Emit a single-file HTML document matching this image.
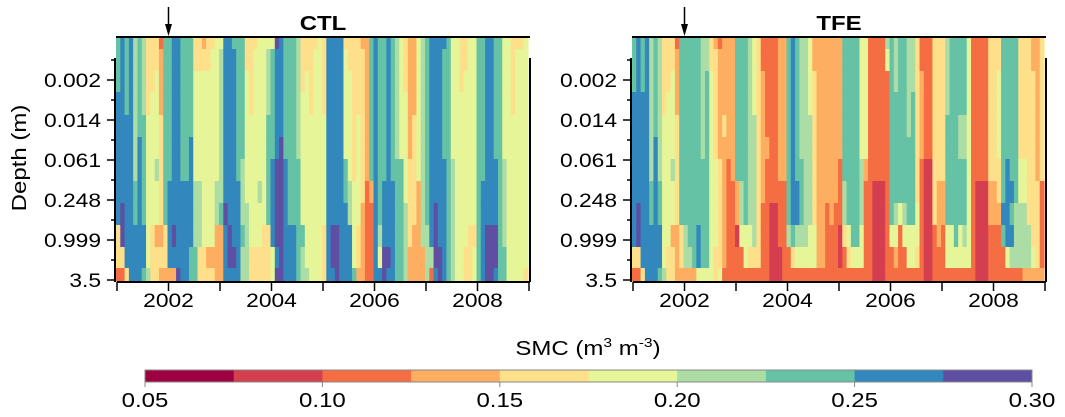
<!DOCTYPE html>
<html><head><meta charset="utf-8"><style>
html,body{margin:0;padding:0;background:#fff;}
svg{display:block;font-family:"Liberation Sans",sans-serif;}
</style></head><body>
<svg id="c" width="1065" height="417" viewBox="0 0 1065 417"></svg>
<script>
const years=[2001,2002,2003,2004,2005,2006,2007,2008,2009];
const yearLabels=["2002","2004","2006","2008"];
const depthLabels=["0.002","0.014","0.061","0.248","0.999","3.5"];
const cbTicks=["0.05","0.10","0.15","0.20","0.25","0.30"];
const palette=["#9e0142","#d53e4f","#f46d43","#fdae61","#fee08b","#e6f598","#abdda4","#66c2a5","#3288bd","#5e4fa2"];
const ctlData=["777888888442","888888889942","777788888884","888888888888","666666677888","777778888888","666677777887","444455555556","444555555444","445555655344","233344444343","777777777443","777777788883","888888888983","888888888889","777777788888","777777788888","777778888877","445555566677","445555566644","345555555544","445555555534","455555555534","555555566333","566666667333","888888889888","888888888998","788888888898","777777788888","777777666766","445555556666","444455555544","455555555544","555555565544","555555555444","566677777444","577777888855","988888999989","888889999999","777777888888","777777777888","777777777888","666666777777","444555555766","445555555556","444455555555","455555555555","555555555555","444455555444","888888888888","888888888998","888888888999","888888888888","455555778888","445555566888","444444455557","444455555443","344444443333","333333322222","777777732222","888888888888","777777777658","777777788899","888888888898","777777788888","666666777777","555555777777","444555556666","333333444433","333344444333","555555533333","666666666633","777777777666","888888888862","888888889998","888888888899","877777888888","777777777777","555555666666","555555555555","444555555555","445555555544","555555555444","555555555455","777777777777","777777788888","888888888999","888888888999","777777888998","777777777777","555555666677","555555555555","444455555555","455555555555","455555555555","555555555554"];
const tfeData=["777888888842","888888889942","777888888884","888888888888","666666677888","777778888888","666666677887","444455555556","444555555544","445555655344","233344444333","777777777443","777777777663","777777777763","777777777773","777777777885","666666777775","667777777775","445555555555","344444555544","233333444445","333343333332","333333222222","333333322222","777777733122","777777766522","777777777552","666666666542","555566666642","444444444442","223333332222","222223222222","222222221111","222222221111","333333322211","333333322222","777777777622","888888888742","777777788652","666666777652","666666666652","555566666552","334444444552","333333333332","333333333332","333333332222","333333333222","333333332222","333333222112","777777766422","777777777542","777777777752","777777777752","555555666552","555555322222","222222222222","222222211111","222222211111","222222211111","652222222222","777777777522","666777776532","777777775222","777777776522","666667777552","666777777552","444444445542","223333222222","222222111111","222222111111","444444444222","444444433322","444444433222","666677777552","777777777552","777777777752","777766777552","777766777652","555555555552","222222222222","222222211111","222222211111","222222211111","444444433222","444444433222","445555443222","777777778722","777777888852","777777787862","777777776662","444444556662","444444556663","444444444663","334444444453","333333344443","444444422223"];

const NS="http://www.w3.org/2000/svg";
const svg=document.getElementById("c");
function mk(tag,attrs,parent){const e=document.createElementNS(NS,tag);for(const k in attrs)e.setAttribute(k,attrs[k]);(parent||svg).appendChild(e);return e;}
function txt(parent,x,y,str,size,anchor,rot,bold){
  const g=mk("g",{transform:`translate(${x},${y}) rotate(${rot||0}) scale(1.2,1)`},parent);
  const t=mk("text",{x:0,y:0,"text-anchor":anchor,"font-size":size},g);
  if(bold)t.setAttribute("font-weight","bold");
  t.textContent=str;
  return t;
}
const rowEdges=[37,49,71,92,115,137,159,181,203,225,247,268,281];
function panel(x0,data,title,name){
  const g=mk("g",{});
  
  
  const W=412, nMonths=data.length;
  const xs=t=>x0+(t-years[0])/(years[years.length-1]-years[0])*W;
  for(let c=0;c<nMonths;c++){
    const xa=xs(years[0]+c/12), xb=xs(years[0]+(c+1)/12);
    for(let r=0;r<12;r++){
      const rc=mk("rect",{x:xa.toFixed(2),y:rowEdges[r],width:(xb-xa+0.6).toFixed(2),height:rowEdges[r+1]-rowEdges[r]+0.5,fill:palette[+data[c][r]]},g);
      
      
    }
  }
  mk("line",{x1:x0,y1:37,x2:x0+W+2,y2:37,stroke:"#000","stroke-width":2},g);
  mk("line",{x1:x0-1,y1:58,x2:x0-1,y2:282,stroke:"#000","stroke-width":2},g);
  mk("line",{x1:x0+W+2,y1:58,x2:x0+W+2,y2:282,stroke:"#000","stroke-width":2},g);
  mk("line",{x1:x0+1,y1:282,x2:x0+W+2,y2:282,stroke:"#000","stroke-width":2},g);
  for(let i=0;i<6;i++){
    const y=Math.min(80+i*40,282);
    mk("line",{x1:x0-9,y1:y,x2:x0-1,y2:y,stroke:"#000","stroke-width":1.5},g);
    mk("line",{x1:x0-5,y1:80+i*40-20,x2:x0-1,y2:80+i*40-20,stroke:"#000","stroke-width":1.5},g);
    const t=txt(g,x0-15,y+7,depthLabels[i],19,"end");
    
    
  }
  years.forEach(yr=>{const x=xs(yr)+1;mk("line",{x1:x,y1:282,x2:x,y2:291,stroke:"#000","stroke-width":1.5},g);});
  yearLabels.forEach(l=>{
    const t=txt(g,xs(+l)+1,307,l,19,"middle");
    
    
  });
  const ax=xs(2002)+1;
  mk("line",{x1:ax,y1:7,x2:ax,y2:33,stroke:"#000","stroke-width":1.5},g);
  mk("path",{d:`M${ax-3.5},24 L${ax},36 L${ax+3.5},24 Z`,fill:"#000"},g);
  const tt=txt(g,x0+W/2+1,30,title,20,"middle",0,true);
  
  
}
panel(116,ctlData,"CTL","ctl");
panel(632,tfeData,"TFE","tfe");
const yl=txt(svg,26,158,"Depth (m)",20,"middle",-90);


const cbx0=145,cbx1=1032,cbw=(cbx1-cbx0)/palette.length;
palette.forEach((col,i)=>{
  const r=mk("rect",{x:cbx0+i*cbw,y:370,width:cbw+0.5,height:12,fill:col});
  
  
});
mk("rect",{x:cbx0,y:370,width:cbx1-cbx0,height:12,fill:"none",stroke:"#888","stroke-width":1});
cbTicks.forEach((l,i)=>{
  const x=cbx0+i*(cbx1-cbx0)/(cbTicks.length-1);
  mk("line",{x1:x,y1:382,x2:x,y2:387,stroke:"#888","stroke-width":1});
  const t=txt(svg,x,407,l,20,"middle");
  
  
});
const cg=mk("g",{transform:"translate(588,355) scale(1.2,1)"});
const ct=mk("text",{x:0,y:0,"text-anchor":"middle","font-size":20},cg);
ct.innerHTML='SMC (m<tspan dy="-8" font-size="13">3</tspan><tspan dy="8"> m</tspan><tspan dy="-8" font-size="13">-3</tspan><tspan dy="8">)</tspan>';


</script>
</body></html>
